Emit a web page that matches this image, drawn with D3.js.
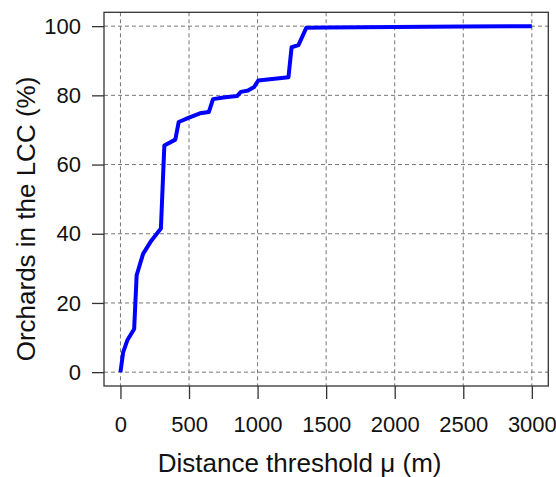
<!DOCTYPE html>
<html>
<head>
<meta charset="utf-8">
<script src="https://cdn.jsdelivr.net/npm/d3@7"></script>
<style>
  html, body { margin: 0; padding: 0; background: #fff; }
  svg { display: block; font-family: "Liberation Sans", Arial, Helvetica, sans-serif; }
</style>
</head>
<body>
<svg id="chart" width="556" height="477"></svg>
<script>
// Data
const distance = [0, 20, 50, 100, 118, 165, 225, 295, 320, 400, 425, 495, 580, 645, 675, 750, 850, 878, 930, 975, 1005, 1225, 1248, 1298, 1355, 1500, 2000, 2500, 3000];
const orchardsPct = [0, 5.8, 9.2, 12.5, 28, 34.2, 38, 41.5, 65.5, 67.2, 72.3, 73.5, 74.8, 75.2, 78.9, 79.4, 79.8, 81, 81.4, 82.4, 84.3, 85.2, 93.9, 94.5, 99.5, 99.6, 99.75, 99.9, 100];
const xTicks = [0, 500, 1000, 1500, 2000, 2500, 3000];
const yTicks = [0, 20, 40, 60, 80, 100];
const xLabel = "Distance threshold \u03bc (m)";
const yLabel = "Orchards in the LCC (%)";

const svg = d3.select("#chart");
const box = { left: 104, right: 548.3, top: 12.3, bottom: 386 };

const x = d3.scaleLinear().domain([-120, 3120]).range([box.left, box.right]);
const y = d3.scaleLinear().domain([-4, 104]).range([box.bottom, box.top]);

// Grid
const grid = svg.append("g");
grid.selectAll("line.vx").data(xTicks).join("line")
  .attr("x1", d => x(d)).attr("x2", d => x(d))
  .attr("y1", box.top).attr("y2", box.bottom)
  .attr("stroke", "#777").attr("stroke-width", 1).attr("stroke-dasharray", "4,3");
grid.selectAll("line.hy").data(yTicks).join("line")
  .attr("x1", box.left).attr("x2", box.right)
  .attr("y1", d => y(d)).attr("y2", d => y(d))
  .attr("stroke", "#777").attr("stroke-width", 1).attr("stroke-dasharray", "4,3");

// Line
const pts = distance.map((d, i) => [d, orchardsPct[i]]);
svg.append("path")
  .datum(pts)
  .attr("fill", "none")
  .attr("stroke", "#0000ff")
  .attr("stroke-width", 4)
  .attr("stroke-linejoin", "round")
  .attr("d", d3.line().x(d => x(d[0])).y(d => y(d[1])));

// Box
svg.append("rect")
  .attr("x", box.left).attr("y", box.top)
  .attr("width", box.right - box.left).attr("height", box.bottom - box.top)
  .attr("fill", "none").attr("stroke", "#333").attr("stroke-width", 1.3);

// Axes
const xAxis = d3.axisBottom(x).tickValues(xTicks).tickSize(13).tickPadding(17).tickFormat(d3.format("d"));
const gx = svg.append("g").attr("transform", `translate(0,${box.bottom})`).call(xAxis);
gx.select(".domain").remove();
gx.selectAll(".tick line").attr("stroke", "#333").attr("stroke-width", 1.3);
gx.selectAll(".tick text").attr("font-size", 22).attr("fill", "#111")
  .attr("font-family", "Liberation Sans, Arial, sans-serif");

const yAxis = d3.axisLeft(y).tickValues(yTicks).tickSize(12).tickPadding(11).tickFormat(d3.format("d"));
const gy = svg.append("g").attr("transform", `translate(${box.left},0)`).call(yAxis);
gy.select(".domain").remove();
gy.selectAll(".tick line").attr("stroke", "#333").attr("stroke-width", 1.3);
gy.selectAll(".tick text").attr("font-size", 22).attr("fill", "#111")
  .attr("font-family", "Liberation Sans, Arial, sans-serif");

// Titles
svg.append("text")
  .attr("x", 299.6).attr("y", 472)
  .attr("text-anchor", "middle")
  .attr("font-size", 26).attr("fill", "#111")
  .text(xLabel);

svg.append("text")
  .attr("transform", "translate(35,219) rotate(-90)")
  .attr("text-anchor", "middle")
  .attr("font-size", 26).attr("fill", "#111")
  .text(yLabel);
</script>
</body>
</html>
